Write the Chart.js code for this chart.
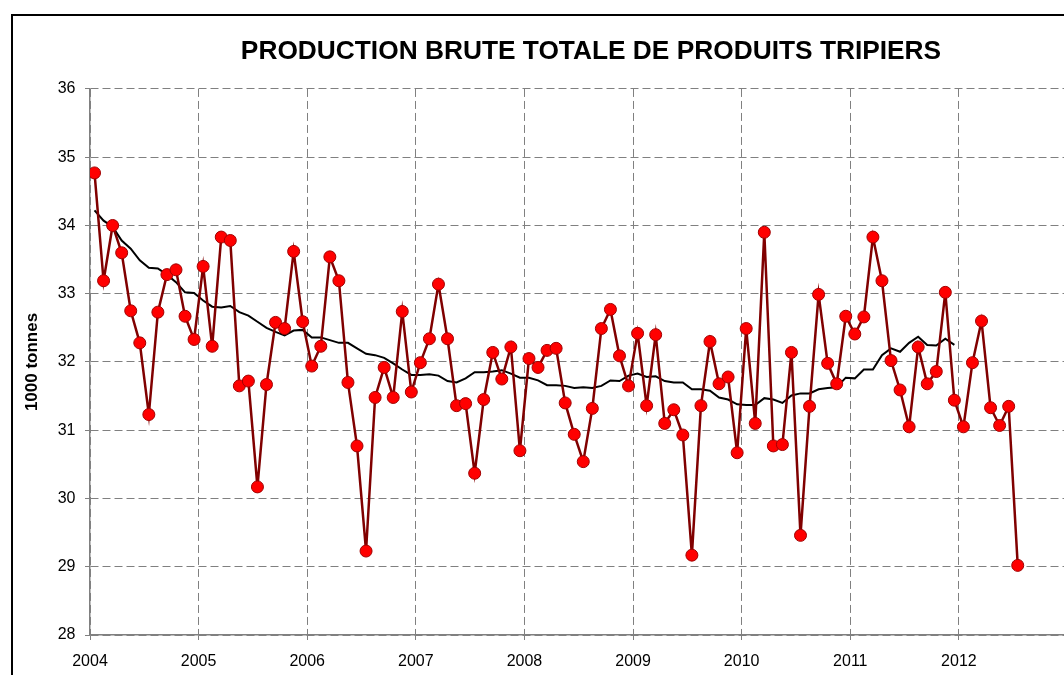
<!DOCTYPE html>
<html>
<head>
<meta charset="utf-8">
<script src="https://cdn.jsdelivr.net/npm/chart.js@4.4.1/dist/chart.umd.min.js"></script>
<style>
    html, body { margin: 0; padding: 0; background: #fff; overflow: hidden; }
    #frame {
        position: absolute;
        left: 11px;
        top: 14px;
        width: 1200px;
        height: 720px;
        border: 2px solid #000;
    }
    #chart { position: absolute; left: 0; top: 0; }
</style>
</head>
<body>
<div id="frame">
    <canvas id="chart" width="1156" height="660"></canvas>
</div>
<script>
// 데이터 (월별, 2004년 1월부터)
const startYear = 2004;
const yearTicks = [2004, 2005, 2006, 2007, 2008, 2009, 2010, 2011, 2012];
const valueTicks = [28, 29, 30, 31, 32, 33, 34, 35, 36];

const production = [
    34.77, 33.19, 34.00, 33.60, 32.75, 32.28, 31.23, 32.73, 33.28, 33.35, 32.67, 32.33,
    33.40, 32.23, 33.83, 33.78, 31.65, 31.72, 30.17, 31.67, 32.58, 32.49, 33.62, 32.59,
    31.94, 32.23, 33.54, 33.19, 31.70, 30.77, 29.23, 31.48, 31.92, 31.48, 32.74, 31.56,
    31.99, 32.34, 33.14, 32.34, 31.36, 31.39, 30.37, 31.45, 32.14, 31.75, 32.22, 30.70,
    32.05, 31.92, 32.17, 32.20, 31.40, 30.94, 30.54, 31.32, 32.49, 32.77, 32.09, 31.65,
    32.42, 31.36, 32.40, 31.10, 31.30, 30.93, 29.17, 31.36, 32.30, 31.68, 31.78, 30.67,
    32.49, 31.10, 33.90, 30.77, 30.79, 32.14, 29.46, 31.35, 32.99, 31.98, 31.68, 32.67,
    32.41, 32.66, 33.83, 33.19, 32.02, 31.59, 31.05, 32.22, 31.68, 31.86, 33.02, 31.44,
    31.05, 31.99, 32.60, 31.33, 31.07, 31.35, 29.02
];

// 12개월 이동평균
const movingAverage = [
    34.22, 34.07, 33.98, 33.78, 33.66, 33.49, 33.38, 33.37, 33.28, 33.17, 33.02, 33.01,
    32.90, 32.81, 32.80, 32.82, 32.73, 32.68, 32.59, 32.50, 32.44, 32.39, 32.46, 32.47,
    32.36, 32.36, 32.32, 32.28, 32.28, 32.20, 32.12, 32.10, 32.06, 31.98, 31.89, 31.81,
    31.81, 31.82, 31.80, 31.72, 31.70, 31.76, 31.85, 31.85, 31.86, 31.88, 31.83, 31.77,
    31.77, 31.73, 31.66, 31.66, 31.65, 31.62, 31.63, 31.62, 31.65, 31.73, 31.72, 31.80,
    31.83, 31.78, 31.79, 31.72, 31.70, 31.70, 31.60, 31.60, 31.58, 31.48, 31.45, 31.38,
    31.37, 31.37, 31.47, 31.45, 31.40, 31.51, 31.54, 31.54, 31.60, 31.62, 31.63, 31.77,
    31.76, 31.89, 31.89, 32.10, 32.20, 32.15, 32.28, 32.37, 32.25, 32.24, 32.34, 32.25
];

// 월 중간 위치로 변환
function toPoints(values) {
    return values.map((v, i) => ({ x: startYear + (i + 0.5) / 12, y: v }));
}

Chart.defaults.font.family = "'Liberation Sans', Arial, sans-serif";
Chart.defaults.color = '#000';

const gridColor = '#808080';

new Chart(document.getElementById('chart').getContext('2d'), {
    type: 'line',
    data: {
        datasets: [
            {
                data: toPoints(production),
                borderColor: '#800000',
                borderWidth: 2.5,
                pointRadius: 6,
                pointBackgroundColor: '#ff0000',
                pointBorderColor: '#a00000',
                pointBorderWidth: 1,
                tension: 0
            },
            {
                data: toPoints(movingAverage),
                borderColor: '#000',
                borderWidth: 2,
                pointRadius: 0,
                tension: 0
            }
        ]
    },
    options: {
        responsive: false,
        animation: false,
        layout: { padding: { left: 0, right: 0, top: 0, bottom: 5 } },
        plugins: {
            legend: { display: false },
            tooltip: { enabled: false },
            title: {
                display: true,
                text: 'PRODUCTION BRUTE TOTALE DE PRODUITS TRIPIERS',
                font: { size: 26.3, weight: 'bold' },
                color: '#000',
                padding: { top: 20.2, bottom: 21.2 }
            }
        },
        scales: {
            x: {
                type: 'linear',
                min: yearTicks[0],
                max: 2013.87,
                afterBuildTicks: (scale) => {
                    scale.ticks = yearTicks.concat([2013]).map(v => ({ value: v }));
                },
                afterFit: (scale) => { scale.height = 36; },
                ticks: {
                    callback: (v) => (yearTicks.includes(v) ? String(v) : ''),
                    font: { size: 16 },
                    color: '#000',
                    padding: 12,
                    maxRotation: 0,
                    autoSkip: false
                },
                grid: {
                    color: gridColor,
                    lineWidth: 1,
                    tickLength: 5,
                    tickColor: gridColor,
                    tickBorderDash: []
                },
                border: { color: gridColor, width: 1.5, dash: [8, 4] }
            },
            y: {
                min: valueTicks[0],
                max: valueTicks[valueTicks.length - 1],
                afterBuildTicks: (scale) => {
                    scale.ticks = valueTicks.map(v => ({ value: v }));
                },
                afterFit: (scale) => { scale.width = 77; },
                ticks: {
                    font: { size: 16 },
                    color: '#000',
                    padding: 9.5
                },
                title: {
                    display: true,
                    text: '1000 tonnes',
                    font: { size: 17, weight: 'bold' },
                    color: '#000',
                    padding: { top: 8.8, bottom: 15 }
                },
                grid: {
                    color: gridColor,
                    lineWidth: 1,
                    tickLength: 5,
                    tickColor: gridColor,
                    tickBorderDash: []
                },
                border: { color: gridColor, width: 1.5, dash: [8, 4] }
            }
        }
    }
});
</script>
</body>
</html>
